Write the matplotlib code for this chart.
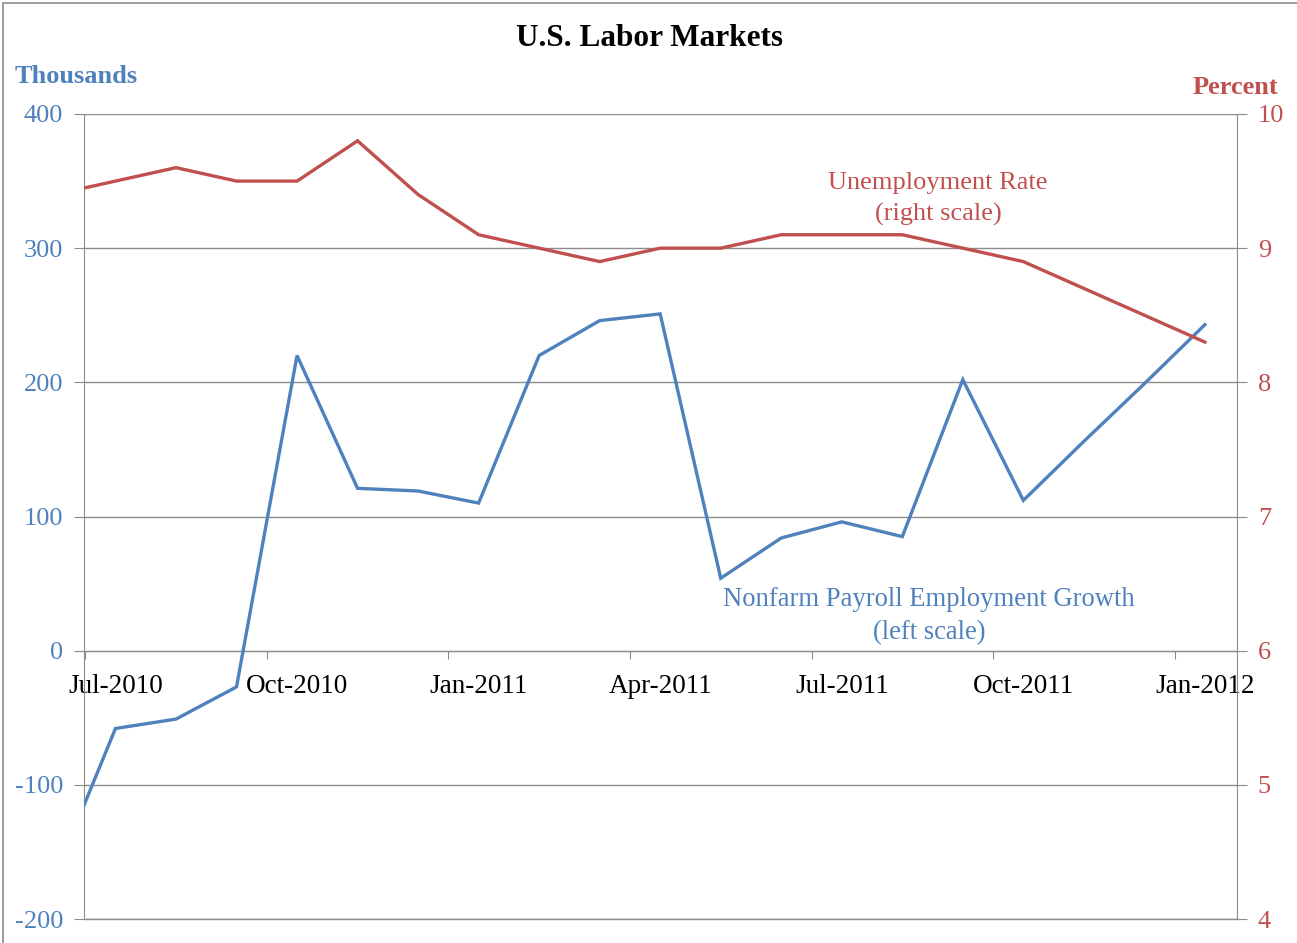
import numpy as np
import matplotlib
matplotlib.use("Agg")
import matplotlib.pyplot as plt
from matplotlib.patches import Rectangle

# Datos mensuales, Jun-2010 .. Jan-2012 (Jun-2010 queda recortado por el borde)
meses = ["Jun-2010", "Jul-2010", "Aug-2010", "Sep-2010", "Oct-2010", "Nov-2010",
         "Dec-2010", "Jan-2011", "Feb-2011", "Mar-2011", "Apr-2011", "May-2011",
         "Jun-2011", "Jul-2011", "Aug-2011", "Sep-2011", "Oct-2011", "Nov-2011",
         "Dec-2011", "Jan-2012"]
nomina = [-168, -58, -51, -27, 220, 121, 119, 110, 220, 246, 251, 54,
          84, 96, 85, 202, 112, 156, 199, 243]
desempleo = [9.4, 9.5, 9.6, 9.5, 9.5, 9.8, 9.4, 9.1, 9.0, 8.9, 9.0, 9.0,
             9.1, 9.1, 9.1, 9.0, 8.9, 8.7, 8.5, 8.3]
etiquetas_x = ["Jul-2010", "Oct-2010", "Jan-2011", "Apr-2011", "Jul-2011", "Oct-2011", "Jan-2012"]

AZUL = "#4F81BD"
ROJO = "#C0504D"
GRIS = "#8C8C8C"
FUENTE = "Liberation Serif"

plt.rcParams['font.family'] = [FUENTE, 'DejaVu Serif']
plt.rcParams['axes.unicode_minus'] = False

fig = plt.figure(figsize=(12.97, 9.43), dpi=100)
ax = fig.add_axes([84 / 1297, 1 - 919 / 943, (1237 - 84) / 1297, (919 - 114) / 943])

x = np.arange(len(meses)) - 1   # 0 = Jul-2010
ax.plot(x, nomina, color=AZUL, lw=2.4, solid_joinstyle='miter', zorder=3)

ax.set_xlim(-0.52, 18.53)
ax.set_ylim(-200, 400)
ax.set_yticks(np.arange(-200, 401, 100))
ax.yaxis.grid(True, color=GRIS, lw=1)
ax.set_axisbelow(True)
ax.axhline(-200, color=GRIS, lw=1, clip_on=False, zorder=1)

# eje x cruzando en 0, etiquetas en el centro de cada trimestre
ax.spines['bottom'].set_position(('data', 0))
ax.spines['bottom'].set_color(GRIS)
ax.spines['top'].set_visible(False)
ax.spines['right'].set_visible(False)
ax.spines['left'].set_color(GRIS)
ax.set_xticks(np.arange(-0.5, 18.6, 3))
ax.set_xticklabels([])
ax.set_xticks(np.arange(0, 19, 3), minor=True)
ax.set_xticklabels(etiquetas_x, minor=True)
ax.tick_params(axis='x', which='major', direction='out', length=6, color=GRIS)
ax.tick_params(axis='x', which='minor', length=0, pad=17, labelsize=19.5, labelcolor='black')
ax.tick_params(axis='y', direction='out', length=7, color=GRIS, pad=8,
               labelsize=19, labelcolor=AZUL)

ax2 = ax.twinx()
ax2.plot(x, desempleo, color=ROJO, lw=2.4, solid_joinstyle='miter', zorder=3)
ax2.set_ylim(4, 10)
ax2.set_yticks(np.arange(4, 11, 1))
for s in ['top', 'bottom', 'left']:
    ax2.spines[s].set_visible(False)
ax2.spines['right'].set_color(GRIS)
ax2.tick_params(axis='y', direction='out', length=7, color=GRIS, pad=8,
                labelsize=19, labelcolor=ROJO)

# textos
fig.text(0.501, 0.959, "U.S. Labor Markets", ha='center', va='center',
         fontsize=22.5, fontweight='bold')
fig.text(15 / 1297, 0.919, "Thousands", ha='left', va='center',
         fontsize=19, fontweight='bold', color=AZUL)
fig.text(1278 / 1297, 0.9067, "Percent", ha='right', va='center',
         fontsize=19, fontweight='bold', color=ROJO)
ax.text(0.7407, 0.894, "Unemployment Rate\n(right scale)", transform=ax.transAxes,
        ha='center', va='center', fontsize=19, color=ROJO, linespacing=1.5)
ax.text(0.733, 0.3764, "Nonfarm Payroll Employment Growth\n(left scale)", transform=ax.transAxes,
        ha='center', va='center', fontsize=19.2, color=AZUL, linespacing=1.45)

# marco de la figura
fig.patches.append(Rectangle((3 / 1297, -0.05), 1.2, 1.05 - 3 / 943, transform=fig.transFigure,
                             fill=False, edgecolor=GRIS, lw=1.2))

fig.savefig("out.png", dpi=100)
